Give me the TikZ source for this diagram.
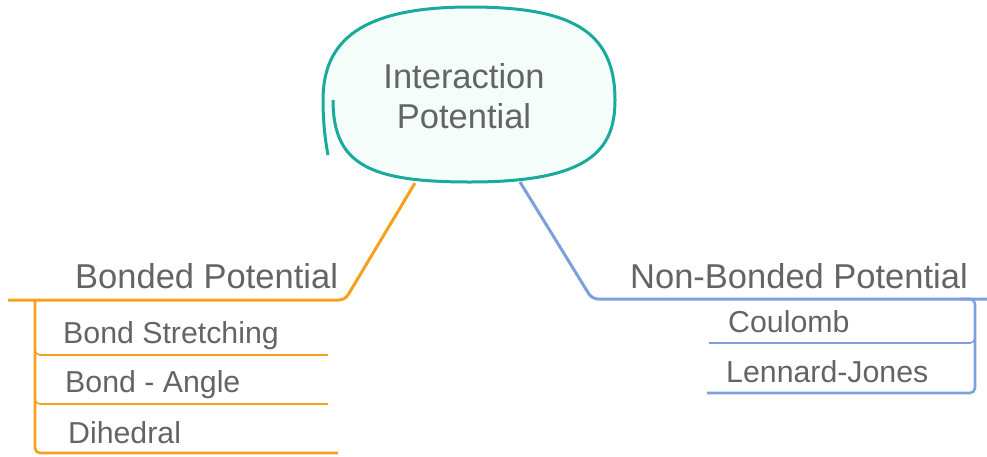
\documentclass[tikz,border=0pt]{standalone}
\usepackage{fontspec}
\setmainfont{Liberation Sans}
\definecolor{cloudline}{RGB}{24,170,155}\definecolor{cloudfill}{RGB}{244,253,250}
\definecolor{bondc}{RGB}{247,160,30}\definecolor{nonbc}{RGB}{124,160,220}\definecolor{txtc}{RGB}{100,100,100}
\begin{document}
\begin{tikzpicture}[x=1pt,y=-1pt,every node/.style={text=txtc,inner sep=0pt,anchor=base west},
  big/.style={font=\fontsize{34.5}{39.5}\selectfont},small/.style={font=\fontsize{30.3}{34}\selectfont},
  trunk/.style={line width=3pt,rounded corners=6pt},leaf/.style={line width=1.6pt,rounded corners=5pt}]
\useasboundingbox (0,0) rectangle (987,456);
% cloud
\draw[cloudline,fill=cloudfill,line width=3pt](333,100) .. controls (333,165) and (370,182) .. (470,182) .. controls (590,182) and (615,150) .. (615,100)
  .. controls (615,30) and (570,7) .. (470,7) .. controls (362,7) and (323,40) .. (323,100) .. controls (323,125) and (326,145) .. (328,155);
\node[big,align=center,anchor=center](ip) at (464,96){Interaction\\Potential};
% bonded
\coordinate(bo) at (415,183);\coordinate(bk) at (345,300);\coordinate(be) at (8,300);
\draw[bondc,trunk](bo)--(bk)--(be);
\node[big](bp) at (75,288){Bonded Potential};
\node[small](bs) at (63,343){Bond Stretching};\node[small](ba) at (65,392){Bond - Angle};\node[small](bd) at (68,443){Dihedral};
\coordinate(bv) at (35,300);\coordinate(bs1) at (328,355);\coordinate(ba1) at (328,404);\coordinate(bd1) at (338,453);
\draw[bondc,line width=2.6pt,rounded corners=5pt](bv)--(bv|-bd1)--(bd1);
\draw[bondc,leaf](35,335)--(bv|-bs1)--(bs1);\draw[bondc,leaf](35,385)--(bv|-ba1)--(ba1);
% non-bonded
\coordinate(no) at (520,182);\coordinate(nk) at (592,299);\coordinate(ne) at (987,299);
\draw[nonbc,trunk](no)--(nk)--(ne);
\node[big](np) at (630,288){Non-Bonded Potential};
\node[small](nc) at (728,332){Coulomb};\node[small](nl) at (726,382){Lennard-Jones};
\coordinate(nv) at (975,299);\coordinate(nc1) at (709,343);\coordinate(nl1) at (707,393);
\draw[nonbc,line width=2.6pt,rounded corners=5pt](960,299)--(nv)--(nv|-nl1)--(nl1);
\draw[nonbc,leaf](975,325)--(nv|-nc1)--(nc1);
\end{tikzpicture}
\end{document}
